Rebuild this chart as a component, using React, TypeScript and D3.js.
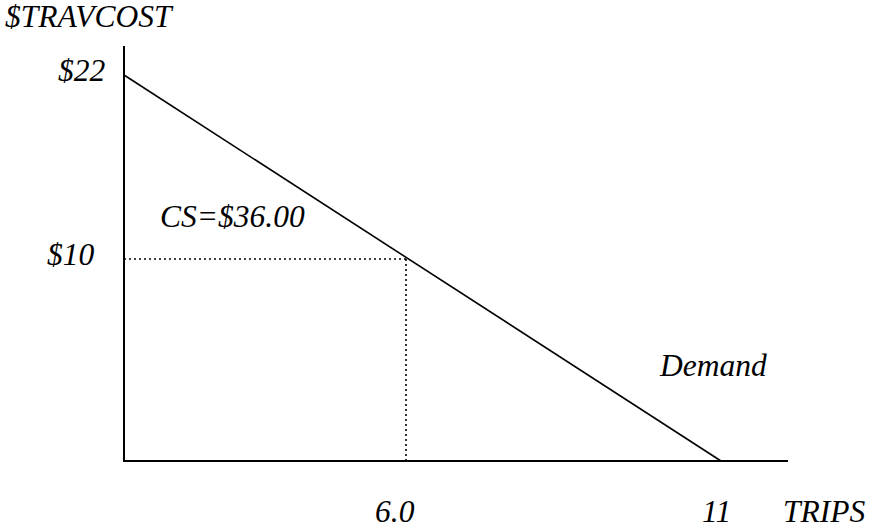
import React from "react";
import * as d3 from "d3";

const demandTrips = [0, 11];
const demandCost = [22, 0];
const priceLevel = 10;
const quantityLevel = 6.0;
const yTickValues = [22, 10];
const yTickLabels = ["$22", "$10"];
const xTickValues = [6.0, 11];
const xTickLabels = ["6.0", "11"];
const yAxisTitle = "$TRAVCOST";
const xAxisTitle = "TRIPS";
const csLabel = "CS=$36.00";
const demandLabel = "Demand";

const W = 869;
const H = 529;
const FONT = "'Liberation Serif', 'Times New Roman', serif";

export default function App() {
  // schematic (not to scale) axes, piecewise linear
  const x = d3.scaleLinear().domain([0, 6, 11]).range([124, 406, 721]);
  const y = d3.scaleLinear().domain([0, 10, 22]).range([461, 259, 75]);
  const line = d3
    .line<number>()
    .x((_, i) => x(demandTrips[i]))
    .y((_, i) => y(demandCost[i]));
  const x0 = x(0);
  const y0 = y(0);
  const fs = 31.5;
  const yLabelX = [58, 47];
  const xLabelX = [375, 702];
  return (
    <svg
      width={W}
      height={H}
      style={{ position: "absolute", left: 0, top: 0, background: "#fff" }}
      fontFamily={FONT}
      fontStyle="italic"
      fontSize={fs}
    >
      <rect width={W} height={H} fill="#fff" />
      <line x1={x0} y1={46} x2={x0} y2={y0} stroke="#000" strokeWidth={2} />
      <line x1={x0 - 1} y1={y0} x2={788} y2={y0} stroke="#000" strokeWidth={2} />
      <line
        x1={x0}
        y1={y(priceLevel)}
        x2={x(quantityLevel)}
        y2={y(priceLevel)}
        stroke="#000"
        strokeWidth={1.6}
        strokeDasharray="2,3"
      />
      <line
        x1={x(quantityLevel)}
        y1={y(priceLevel)}
        x2={x(quantityLevel)}
        y2={y0}
        stroke="#000"
        strokeWidth={1.6}
        strokeDasharray="2,3"
      />
      <path d={line(demandTrips) || ""} fill="none" stroke="#000" strokeWidth={1.6} />
      <text x={5} y={27}>{yAxisTitle}</text>
      {yTickValues.map((v, i) => (
        <text key={v} x={yLabelX[i]} y={y(v) + 6}>
          {yTickLabels[i]}
        </text>
      ))}
      {xTickValues.map((v, i) => (
        <text key={v} x={xLabelX[i]} y={522}>
          {xTickLabels[i]}
        </text>
      ))}
      <text x={783} y={522}>{xAxisTitle}</text>
      <text x={160} y={227}>{csLabel}</text>
      <text x={660} y={376}>{demandLabel}</text>
    </svg>
  );
}
